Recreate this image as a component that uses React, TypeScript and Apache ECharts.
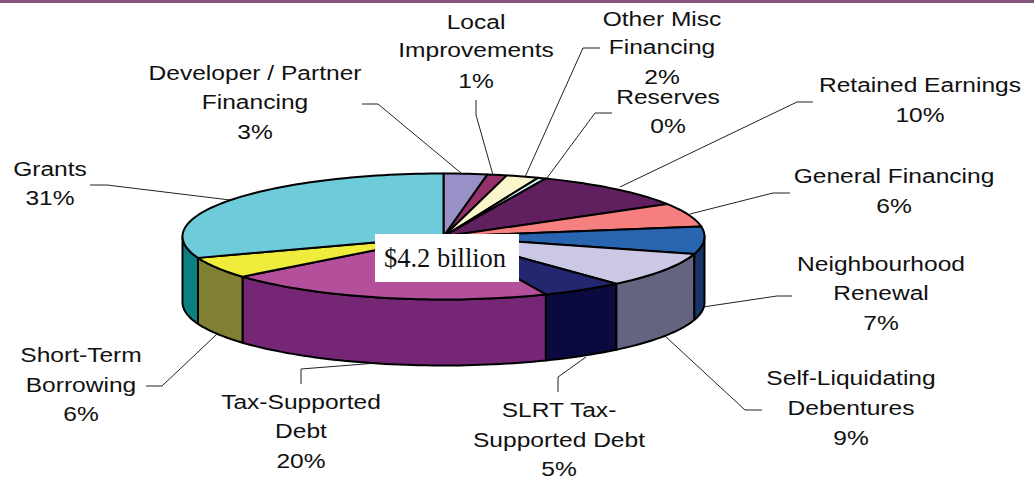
import React, { useEffect, useRef } from "react";
import * as echarts from "echarts";

const names = [
  "Developer / Partner\nFinancing", "Local\nImprovements", "Other Misc\nFinancing", "Reserves",
  "Retained Earnings", "General Financing", "Neighbourhood\nRenewal", "Self-Liquidating\nDebentures",
  "SLRT Tax-\nSupported Debt", "Tax-Supported\nDebt", "Short-Term\nBorrowing", "Grants",
];
const values = [2.7, 1.2, 2.0, 0.49, 10.0, 6.1, 7.0, 9.0, 5.1, 20.4, 5.5, 30.51];
const topColors = ["#9791C8", "#95306A", "#FAF6CC", "#CCECF0", "#60205F", "#F67F7F", "#2864B0", "#CAC8E4", "#242670", "#B44F9C", "#F0EC3C", "#6ECBD9"];
const sideColors = ["#6F6A94", "#6E234E", "#BAB698", "#98AEB2", "#471747", "#B65E5E", "#1A3568", "#646480", "#0A0A40", "#752675", "#808033", "#0A8080"];

const CX = 443.5, CY = 236.5, RX = 261, RY = 63, DEPTH = 66;
const FONT = "Liberation Sans";
const STRETCH = 1.17;

// label layout: centre x, then the centre y of each line
const labelLayout: [number, number[]][] = [
  [255, [73, 102, 132]], [476, [22, 50, 81]], [662, [19, 47, 77]], [668, [97, 126]],
  [920, [85, 115]], [894, [176, 206]], [881, [264, 293, 323]], [851, [378, 408, 438]],
  [559, [410, 440, 468.5]], [301, [402, 431, 461]], [81, [355, 385, 414]], [50, [169, 198]],
];
const leaderLayout = [
  [[362, 104], [378, 104], [461, 173]],
  [[476, 100], [476, 115], [493, 175]],
  [[600, 48], [583, 48], [525, 177]],
  [[612, 113], [595, 113], [547, 178]],
  [[813, 102], [797, 102], [620, 187]],
  [[790, 193], [773, 193], [690, 214]],
  [[792, 296], [777, 296], [703, 307]],
  [[762, 410], [745, 410], [665, 336]],
  [[558, 392], [558, 377], [586, 357]],
  [[301, 384], [301, 369], [377, 363]],
  [[146, 386], [162, 386], [216, 335]],
  [[90, 185], [107, 185], [230, 200]],
];

const total = values.reduce((a, b) => a + b, 0);
const angleAt = (i: number) =>
  (values.slice(0, i).reduce((a, b) => a + b, 0) / total) * 360;
const pt = (deg: number, dy = 0) => {
  const r = (deg * Math.PI) / 180;
  return [CX + RX * Math.sin(r), CY - RY * Math.cos(r) + dy];
};
const arc = (a: number, b: number, dy = 0) => {
  const out: number[][] = [];
  const n = Math.max(2, Math.ceil((b - a) / 1.5));
  for (let k = 0; k <= n; k++) out.push(pt(a + ((b - a) * k) / n, dy));
  return out;
};

const renderTop = (params: any, api: any) => {
  const i = params.dataIndex;
  const a = angleAt(i);
  const b = a + (api.value(0) / total) * 360;
  return {
    type: "polygon",
    silent: true,
    shape: { points: [[CX, CY], ...arc(a, b)] },
    style: { fill: topColors[i], stroke: "#000", lineWidth: 2, lineJoin: "round" },
  };
};
const renderSide = (params: any, api: any) => {
  const i = params.dataIndex;
  const a = Math.max(angleAt(i), 90);
  const b = Math.min(angleAt(i) + (api.value(0) / total) * 360, 270);
  if (b <= a) return { type: "group", children: [] };
  return {
    type: "polygon",
    silent: true,
    shape: { points: [...arc(a, b), ...arc(a, b, DEPTH).reverse()] },
    style: { fill: sideColors[i], stroke: "#000", lineWidth: 2, lineJoin: "round" },
  };
};

export default function App() {
  const ref = useRef<HTMLDivElement>(null);
  useEffect(() => {
    const chart = echarts.init(ref.current!, null, { renderer: "svg" });
    const elements: any[] = [
      { type: "rect", shape: { x: 0, y: 0, width: 1034, height: 3 }, style: { fill: "#845578" } },
    ];
    leaderLayout.forEach((points) => {
      elements.push({ type: "polyline", z: 1, shape: { points }, style: { fill: "none", stroke: "#222", lineWidth: 1 } });
    });
    names.forEach((n, i) => {
      const [x, ys] = labelLayout[i];
      const text = `${n}\n${Math.round(values[i])}%`;
      text.split("\n").forEach((line, k) => {
        elements.push({
          type: "text", z: 1, x, y: ys[k], scaleX: STRETCH,
          style: { text: line, fontFamily: FONT, fontSize: 21, fill: "#111", align: "center", verticalAlign: "middle" },
        });
      });
    });
    elements.push({ type: "rect", z: 10, shape: { x: 375, y: 234, width: 144, height: 48 }, style: { fill: "#fff" } });
    elements.push({
      type: "text", z: 11, x: 445, y: 258,
      style: { text: "$4.2 billion", fontFamily: "Liberation Serif", fontSize: 26.5, fill: "#111", align: "center", verticalAlign: "middle" },
    });
    chart.setOption({
      animation: false,
      backgroundColor: "#fff",
      graphic: { elements },
      series: [
        { type: "custom", coordinateSystem: "none", renderItem: renderSide, data: values.map((v) => [v]), z: 3 },
        { type: "custom", coordinateSystem: "none", renderItem: renderTop, data: values.map((v) => [v]), z: 4 },
      ],
    });
    return () => chart.dispose();
  }, []);
  return <div ref={ref} style={{ position: "absolute", left: 0, top: 0, width: 1034, height: 479 }} />;
}
